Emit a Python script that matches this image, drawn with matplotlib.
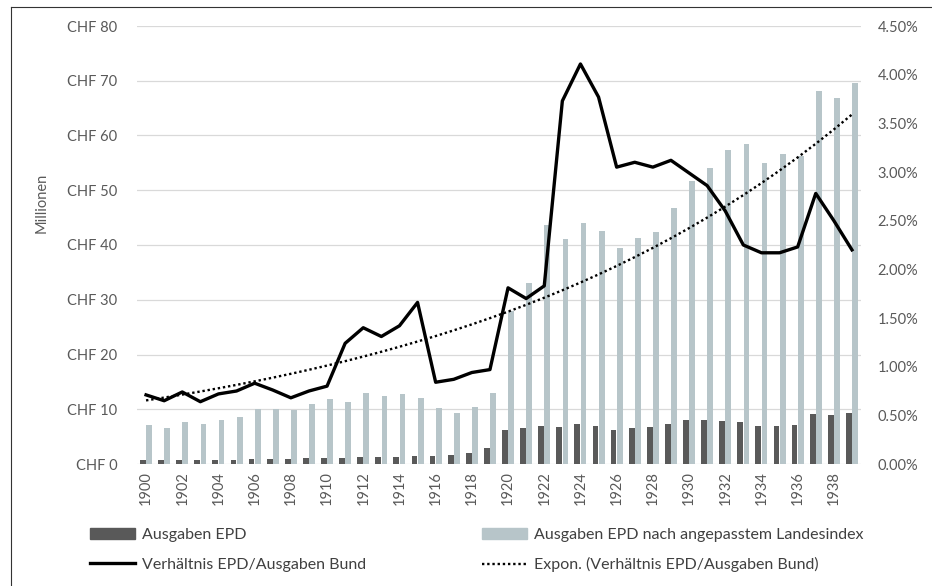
import numpy as np
import matplotlib.pyplot as plt
from matplotlib.lines import Line2D
from matplotlib.patches import Patch
from matplotlib.ticker import FuncFormatter, PercentFormatter

plt.rcParams['font.family'] = ['Lato', 'DejaVu Sans']

years = list(range(1900, 1940))

# Ausgaben EPD (Mio. CHF)
ausgaben_epd = [0.75, 0.75, 0.75, 0.75, 0.75, 0.8, 1.0, 1.0, 1.0, 1.05,
                1.1, 1.1, 1.3, 1.3, 1.3, 1.4, 1.4, 1.6, 2.1, 2.9,
                6.3, 6.6, 7.0, 6.7, 7.3, 7.0, 6.3, 6.6, 6.7, 7.3,
                8.0, 8.0, 7.9, 7.6, 7.0, 7.0, 7.2, 9.2, 9.0, 9.4]

# Ausgaben EPD nach angepasstem Landesindex (Mio. CHF)
ausgaben_index = [7.1, 6.6, 7.6, 7.3, 8.0, 8.5, 10.1, 10.0, 9.8, 10.9,
                  11.9, 11.3, 12.9, 12.4, 12.7, 12.0, 10.3, 9.4, 10.5, 12.9,
                  28.0, 33.1, 43.6, 41.1, 44.1, 42.5, 39.4, 41.3, 42.4, 46.8,
                  51.7, 54.0, 57.3, 58.4, 54.9, 56.6, 56.3, 68.2, 66.8, 69.5]

# Verhältnis EPD/Ausgaben Bund (%)
verhaeltnis = [0.71, 0.65, 0.74, 0.64, 0.72, 0.75, 0.83, 0.76, 0.68, 0.75,
               0.80, 1.24, 1.40, 1.31, 1.42, 1.66, 0.84, 0.87, 0.94, 0.97,
               1.81, 1.70, 1.83, 3.73, 4.11, 3.77, 3.05, 3.10, 3.05, 3.12,
               2.99, 2.86, 2.60, 2.25, 2.17, 2.17, 2.23, 2.78, 2.50, 2.20]

dark = '#595959'
light = '#b7c5c9'
text_col = '#595959'

x = np.arange(len(years))
ratio = np.array(verhaeltnis) / 100

# exponential trendline (like Excel "Expon.")
b, a = np.polyfit(x, np.log(ratio), 1)
trend = np.exp(a + b * x)

fig = plt.figure(figsize=(9.32, 5.86), dpi=100)
ax = fig.add_axes([137 / 932, 1 - 464 / 586, (861 - 137) / 932, (464 - 26) / 586])
ax2 = ax.twinx()

w = 0.32
ax.bar(x - 0.17, ausgaben_epd, width=w, color=dark, zorder=3)
ax.bar(x + 0.17, ausgaben_index, width=w, color=light, zorder=3)

ax2.plot(x, ratio, color='black', lw=2.4, solid_joinstyle='round', zorder=4)
ax2.plot(x, trend, color='black', lw=1.7, linestyle=(0, (1, 1.2)), zorder=4)

ax.set_xlim(-0.5, len(years) - 0.5)
ax.set_ylim(0, 80)
ax2.set_ylim(0, 0.045)
ax.set_yticks(range(0, 81, 10))
ax2.set_yticks(np.arange(0, 0.0451, 0.005))
ax.yaxis.set_major_formatter(FuncFormatter(lambda v, p: f'CHF {int(v)}'))
ax2.yaxis.set_major_formatter(PercentFormatter(1.0, decimals=2))

ax.set_xticks(x[::2])
ax.set_xticklabels([str(y) for y in years[::2]], rotation=90)

ax.grid(axis='y', color='#d9d9d9', lw=0.9, zorder=0)
ax.set_axisbelow(True)
for a_ in (ax, ax2):
    for s in a_.spines.values():
        s.set_visible(False)
ax.tick_params(axis='y', length=0, pad=14, labelsize=10.5, labelcolor=text_col)
ax.tick_params(axis='x', length=0, pad=5, labelsize=10.5, labelcolor=text_col)
ax2.tick_params(axis='y', length=0, pad=12, labelsize=10.5, labelcolor=text_col)

ax.set_ylabel('Millionen', fontsize=10.5, color=text_col)
ax.yaxis.set_label_coords(-0.122, 0.596)

leg_kw = dict(frameon=False, fontsize=11.5, borderpad=0, borderaxespad=0,
              handlelength=2.8, handletextpad=0.45, labelspacing=0.95,
              labelcolor='#404040', loc='upper left')
h1 = [Patch(color=dark), Line2D([], [], color='black', lw=2.4)]
h2 = [Patch(color=light), Line2D([], [], color='black', lw=1.7, linestyle=(0, (1, 1.2)))]
fig.legend(h1, ['Ausgaben EPD', 'Verhältnis EPD/Ausgaben Bund'],
           bbox_to_anchor=(90 / 932, 1 - 528 / 586), **leg_kw)
fig.legend(h2, ['Ausgaben EPD nach angepasstem Landesindex',
                'Expon. (Verhältnis EPD/Ausgaben Bund)'],
           bbox_to_anchor=(482 / 932, 1 - 528 / 586), **leg_kw)

# outer frame (left and top edge visible)
fig.add_artist(Line2D([11 / 932, 11 / 932], [0, 1 - 7 / 586], transform=fig.transFigure, color='#333333', lw=0.8))
fig.add_artist(Line2D([11 / 932, 1], [1 - 7 / 586, 1 - 7 / 586], transform=fig.transFigure, color='#333333', lw=0.8))

fig.savefig('out.png', dpi=100)
